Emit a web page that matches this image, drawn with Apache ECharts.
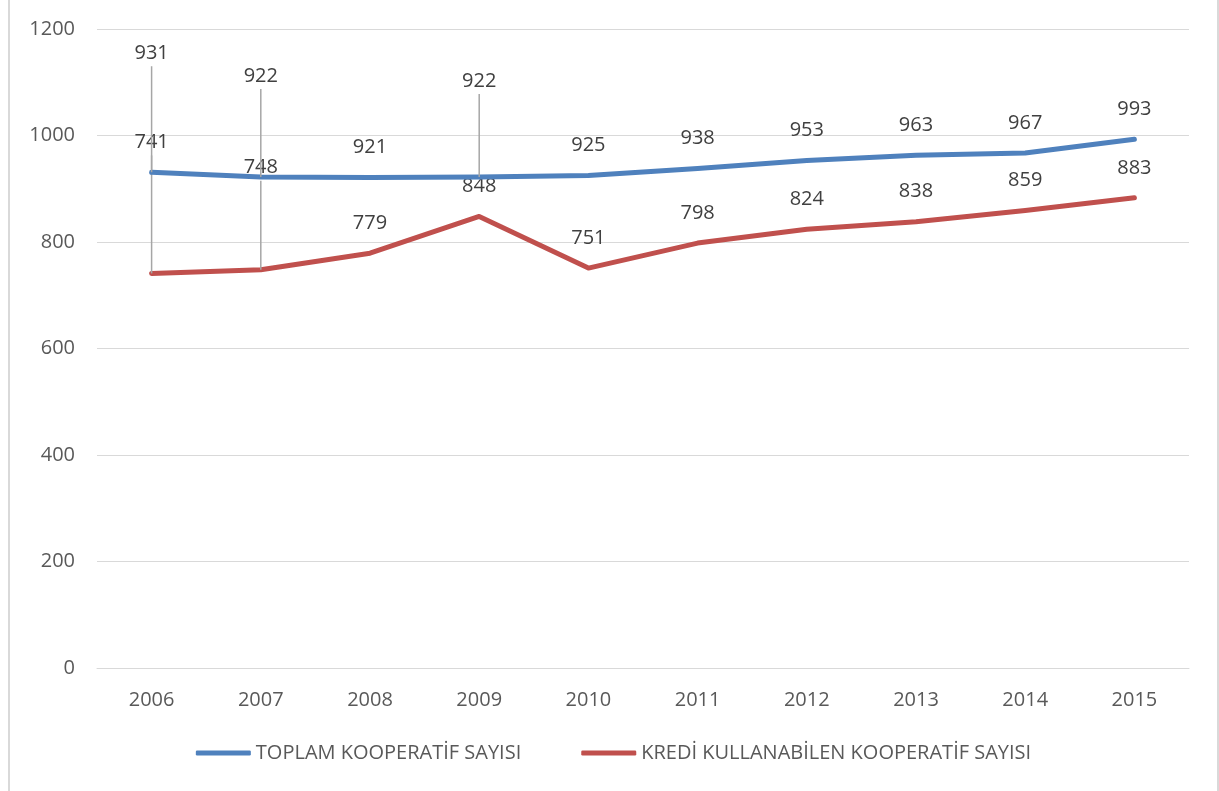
<!DOCTYPE html>
<html>
<head>
<meta charset="utf-8">
<script src="https://cdn.jsdelivr.net/npm/echarts@6/dist/echarts.min.js"></script>
<style>
  html, body { margin: 0; padding: 0; background: #fff; }
  #chart {
    width: 1211px; height: 791px; margin-left: 8px;
    border-left: 2px solid #d9d9d9; border-right: 2px solid #d9d9d9;
    box-sizing: border-box;
  }
</style>
</head>
<body>
<div id="chart"></div>
<script>
const years = ['2006', '2007', '2008', '2009', '2010', '2011', '2012', '2013', '2014', '2015']
const toplam = [931, 922, 921, 922, 925, 938, 953, 963, 967, 993]
const kredi = [741, 748, 779, 848, 751, 798, 824, 838, 859, 883]
const yTicks = [0, 200, 400, 600, 800, 1000, 1200]

// labels that were dragged up in the original, length of their leader line (px)
const toplamLeader = { 0: 106, 1: 88, 3: 83 }
const krediLeader = { 0: 118, 1: 89 }

const chart = echarts.init(document.getElementById('chart'))

const font = 'Open Sans, sans-serif'

const buildData = (values, leader) =>
  values.map((v, i) => {
    if (!leader[i]) return v
    return {
      value: v,
      label: {
        distance: 0,
        formatter: '{v|{c}}\n{l|}',
        rich: {
          v: { fontSize: 20, color: '#404040', fontFamily: font, lineHeight: 26, align: 'center' },
          l: { width: 1.5, height: leader[i], backgroundColor: '#a6a6a6', align: 'center' },
        },
      },
    }
  })

const makeSeries = (name, values, color, leader) => ({
  name,
  type: 'line',
  data: buildData(values, leader),
  symbol: 'circle',
  symbolSize: 0,
  showSymbol: true,
  z: name.startsWith('TOPLAM') ? 3 : 2,
  lineStyle: { width: 5, color, cap: 'round', join: 'round' },
  itemStyle: { color },
  label: {
    show: true,
    position: 'top',
    distance: 20,
    color: '#404040',
    fontSize: 20,
    fontFamily: font,
  },
})

chart.setOption({
  animation: false,
  backgroundColor: '#fff',
  grid: { left: 87, right: 28, top: 29, bottom: 123 },
  legend: {
    bottom: 23,
    left: 'center',
    icon: 'roundRect',
    itemWidth: 55,
    itemHeight: 5,
    itemGap: 60,
    textStyle: { color: '#595959', fontSize: 20, fontFamily: font },
    data: ['TOPLAM KOOPERATİF SAYISI', 'KREDİ KULLANABİLEN KOOPERATİF SAYISI'],
  },
  xAxis: {
    type: 'category',
    data: years,
    boundaryGap: true,
    axisTick: { show: false },
    axisLine: { lineStyle: { color: '#d9d9d9', width: 1 } },
    axisLabel: { color: '#595959', fontSize: 20, margin: 22, fontFamily: font },
  },
  yAxis: {
    type: 'value',
    min: yTicks[0],
    max: yTicks[yTicks.length - 1],
    interval: 200,
    axisLine: { show: false },
    axisTick: { show: false },
    splitLine: { lineStyle: { color: '#d9d9d9', width: 1 } },
    axisLabel: {
      color: '#595959', fontSize: 20, margin: 22, fontFamily: font,
      formatter: (v) => String(v),
    },
  },
  series: [
    makeSeries('TOPLAM KOOPERATİF SAYISI', toplam, '#4f81bd', toplamLeader),
    makeSeries('KREDİ KULLANABİLEN KOOPERATİF SAYISI', kredi, '#c0504d', krediLeader),
  ],
})
</script>
</body>
</html>
